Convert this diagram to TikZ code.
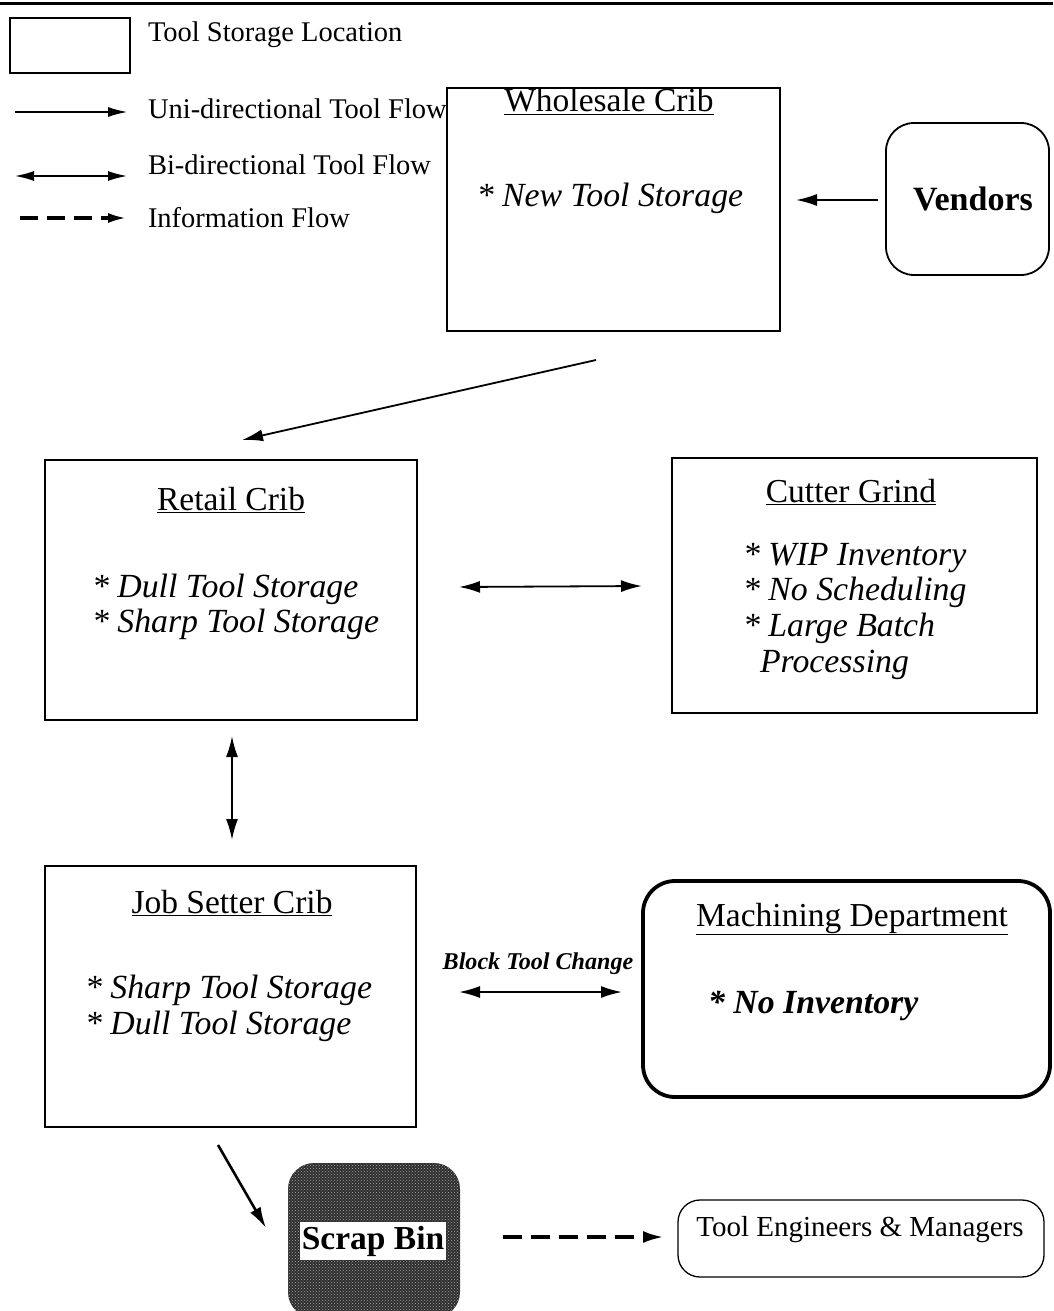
\documentclass[tikz,border=0pt]{standalone}
\usepackage{fontspec}
\setmainfont{Liberation Serif}
\usetikzlibrary{arrows.meta,patterns}

\begin{document}
\begin{tikzpicture}[x=1pt,y=-1pt,
  every node/.style={inner sep=0pt, outer sep=0pt},
  big/.style={font=\fontsize{33.5}{36}\selectfont},
  title/.style={big, anchor=base},
  item/.style={font=\fontsize{33.8}{36}\selectfont\itshape, anchor=base west},
  legendtxt/.style={font=\fontsize{28.5}{30}\selectfont, anchor=base west},
  crib/.style={draw, line width=1.3pt, anchor=north west},
  flow/.style={line width=1.8pt, -{Latex[length=21pt,width=12pt]}},
  biflow/.style={line width=1.8pt, {Latex[length=21pt,width=12pt]}-{Latex[length=21pt,width=12pt]}},
  infoflow/.style={line width=3.6pt, dash pattern=on 19pt off 9pt, -{Latex[length=21pt,width=12pt]}},
]
\useasboundingbox (0,0) rectangle (1053,1311);

% rule along the top edge
\draw[line width=3pt] (0,4) -- (1053,4);

% ---------------- legend ----------------
\node[crib, minimum width=120pt, minimum height=55pt] (legbox) at (10,18) {};
\node[legendtxt] (legbox-t) at (148,42) {Tool Storage Location};

\coordinate (uniA) at (15,112);  \coordinate (uniB) at (127,112);
\draw[line width=1.2pt, -{Latex[length=19pt,width=10pt]}] (uniA) -- (uniB);
\node[legendtxt] (uni-t) at (148,118) {Uni-directional Tool Flow};

\coordinate (biA) at (15,176);  \coordinate (biB) at (127,176);
\draw[line width=1.6pt, {Latex[length=19pt,width=10pt]}-{Latex[length=19pt,width=10pt]}] (biA) -- (biB);
\node[legendtxt] (bi-t) at (148,174) {Bi-directional Tool Flow};

\coordinate (infA) at (20,218);  \coordinate (infB) at (127,218);
\draw[line width=3.4pt, dash pattern=on 18pt off 9pt, -{Latex[length=19pt,width=10pt]}] (infA) -- (infB);
\node[legendtxt] (inf-t) at (148,227) {Information Flow};

% ---------------- storage locations ----------------
\node[crib, fill=white, minimum width=333pt, minimum height=243pt] (whole) at (447,88) {};
\node[title] (whole-t) at (609,112) {\underline{Wholesale Crib}};
\node[font=\fontsize{33.8}{36}\selectfont\itshape, anchor=base] (whole-i) at (610,206) {* New Tool Storage};

\draw[line width=1.8pt, rounded corners=28pt] (886,123) rectangle (1049,275);
\node (vend) at (967.5,199) {};
\node[font=\fontsize{34}{36}\selectfont\bfseries, anchor=base] (vend-t) at (973,210) {Vendors};

\node[crib, minimum width=372pt, minimum height=260pt] (retail) at (45,460) {};
\node[title] (retail-t) at (231,510) {\underline{Retail Crib}};
\node[item] (retail-1) at (92,597) {* Dull Tool Storage};
\node[item] (retail-2) at (92,632) {* Sharp Tool Storage};

\node[crib, minimum width=365pt, minimum height=255pt] (cutter) at (672,458) {};
\node[title] (cutter-t) at (851,502) {\underline{Cutter Grind}};
\node[item] (cutter-1) at (743,565) {* WIP Inventory};
\node[item] (cutter-2) at (743,600) {* No Scheduling};
\node[item] (cutter-3) at (743,636) {* Large Batch};
\node[item] (cutter-4) at (760,672) {Processing};

\node[crib, minimum width=371pt, minimum height=261pt] (jobset) at (45,866) {};
\node[title] (jobset-t) at (232,913) {\underline{Job Setter Crib}};
\node[item] (jobset-1) at (85,998) {* Sharp Tool Storage};
\node[item] (jobset-2) at (85,1034) {* Dull Tool Storage};

\draw[line width=3.8pt, rounded corners=32pt] (643,881) rectangle (1050,1097);
\node[title] (mach-t) at (852,926) {\underline{Machining Department}};
\node[font=\fontsize{33.8}{36}\selectfont\bfseries\itshape, anchor=base west] (mach-i) at (708,1013) {* No Inventory};

\node[font=\fontsize{24.1}{26}\selectfont\bfseries\itshape, anchor=base] (btc) at (538,969) {Block Tool Change};

% scrap bin: dark halftone block with a white label
\fill[black!82, rounded corners=26pt] (288,1163) rectangle (460,1318);
\fill[pattern=crosshatch dots, pattern color=black!35, rounded corners=26pt] (288,1163) rectangle (460,1318);
\node[fill=white, inner xsep=2pt, inner ysep=4pt, font=\fontsize{33.5}{36}\selectfont\bfseries, anchor=base] (scrap) at (373,1249) {Scrap Bin};

\draw[line width=1.3pt, rounded corners=22pt] (678,1200) rectangle (1044,1277);
\node[font=\fontsize{29}{30}\selectfont, anchor=base] (eng) at (860,1236) {Tool Engineers \& Managers};

% ---------------- flows ----------------
\coordinate (v2w-a) at (878,200);  \coordinate (v2w-b) at (796,200);
\draw[flow] (v2w-a) -- (v2w-b);

\coordinate (w2r-a) at (596,360);  \coordinate (w2r-b) at (242,440);
\draw[flow] (w2r-a) -- (w2r-b);

\coordinate (rc-a) at (459,587);  \coordinate (rc-b) at (642,586);
\draw[biflow] (rc-a) -- (rc-b);

\coordinate (rj-a) at (232,736);  \coordinate (rj-b) at (232,840);
\draw[biflow] (rj-a) -- (rj-b);

\coordinate (jm-a) at (459,992);  \coordinate (jm-b) at (622,992);
\draw[biflow] (jm-a) -- (jm-b);

\coordinate (js-a) at (218,1145);  \coordinate (js-b) at (266,1228);
\draw[flow, line width=2.6pt] (js-a) -- (js-b);

\coordinate (se-a) at (503,1237);  \coordinate (se-b) at (664,1237);
\draw[infoflow] (se-a) -- (se-b);
\end{tikzpicture}
\end{document}
